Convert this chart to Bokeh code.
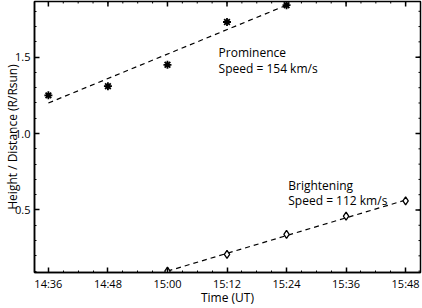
from bokeh.plotting import figure
from bokeh.models import FixedTicker, Range1d
from bokeh.core.properties import value
from bokeh.embed import file_html
from bokeh.resources import INLINE

# ---- data (times in UT) ----
prom_times = ["14:36", "14:48", "15:00", "15:12", "15:24"]
prom_heights = [1.25, 1.31, 1.45, 1.73, 1.84]
bright_times = ["15:00", "15:12", "15:24", "15:36", "15:48"]
bright_heights = [0.10, 0.21, 0.34, 0.46, 0.56]
prom_fit_times = ["14:36", "15:24"]
prom_fit_heights = [1.20, 1.84]
bright_fit_times = ["15:00", "15:48"]
bright_fit_heights = [0.10, 0.565]
x_tick_labels = ["14:36", "14:48", "15:00", "15:12", "15:24", "15:36", "15:48"]
y_ticks = [0.5, 1.0, 1.5]
y_tick_labels = ["0.5", "1.0", "1.5"]
prom_text = ["Prominence", "Speed = 154 km/s"]
prom_text_time = "15:10.3"
prom_text_heights = [1.531, 1.427]
bright_text = ["Brightening", "Speed = 112 km/s"]
bright_text_time = "15:24.35"
bright_text_heights = [0.658, 0.561]
x_title = "Time (UT)"
y_title = "Height / Distance (R/Rsun)"


def to_min(s):
    h, m = s.split(":")
    return (int(h) - 14) * 60 + float(m)


FONT = "Open Sans"
W, H = 422, 308
BL, BR, BT, BB = 34, 2, 1, 34
X0, X1 = 33.2, 111.0
Y0, Y1 = 0.091, 1.864

p = figure(width=W, height=H, output_backend="svg", toolbar_location=None,
           x_range=Range1d(X0, X1), y_range=Range1d(Y0, Y1),
           min_border_left=BL, min_border_right=BR, min_border_top=BT, min_border_bottom=BB)
p.background_fill_color = "white"
p.border_fill_color = "white"
p.outline_line_color = "black"
p.outline_line_width = 1.5
p.xgrid.visible = False
p.ygrid.visible = False

x_major = [to_min(t) for t in x_tick_labels]
x_minor = list(range(33, 112, 3))
y_minor = [round(i * 0.1, 1) for i in range(1, 19)]
xt = FixedTicker(ticks=x_major, minor_ticks=x_minor)
yt = FixedTicker(ticks=y_ticks, minor_ticks=y_minor)


def style(ax):
    ax.axis_line_color = "black"
    ax.axis_line_width = 1.5
    ax.major_tick_in = 5
    ax.major_tick_out = 0
    ax.minor_tick_in = 2
    ax.minor_tick_out = 0
    ax.major_tick_line_width = 1.5
    ax.minor_tick_line_width = 1
    ax.major_tick_line_color = "black"
    ax.minor_tick_line_color = "black"
    ax.major_label_text_font = FONT
    ax.major_label_text_font_size = "11px"
    ax.major_label_text_color = "black"
    ax.axis_label_text_font = FONT
    ax.axis_label_text_font_size = "12px"
    ax.axis_label_text_font_style = "normal"
    ax.axis_label_text_color = "black"


xa = p.xaxis[0]
xa.ticker = xt
xa.major_label_overrides = {m: l for m, l in zip(x_major, x_tick_labels)}
xa.major_label_standoff = 3
xa.axis_label = x_title
xa.axis_label_standoff = -5
style(xa)

ya = p.yaxis[0]
ya.ticker = yt
ya.major_label_overrides = {t: l for t, l in zip(y_ticks, y_tick_labels)}
ya.major_label_standoff = 4
ya.axis_label = y_title
ya.axis_label_standoff = -9
style(ya)

# inward ticks on the top and right edges of the frame
fw, fh = W - BL - BR, H - BT - BB
dx_px = (X1 - X0) / fw
dy_px = (Y1 - Y0) / fh
p.segment(x0=x_major, y0=[Y1] * len(x_major), x1=x_major,
          y1=[Y1 - 5 * dy_px] * len(x_major), line_color="black", line_width=1.5)
p.segment(x0=x_minor, y0=[Y1] * len(x_minor), x1=x_minor,
          y1=[Y1 - 2 * dy_px] * len(x_minor), line_color="black", line_width=1)
p.segment(x0=[X1] * len(y_ticks), y0=y_ticks, x1=[X1 - 5 * dx_px] * len(y_ticks),
          y1=y_ticks, line_color="black", line_width=1.5)
p.segment(x0=[X1] * len(y_minor), y0=y_minor, x1=[X1 - 2 * dx_px] * len(y_minor),
          y1=y_minor, line_color="black", line_width=1)

# fit lines
p.line([to_min(t) for t in prom_fit_times], prom_fit_heights,
       line_color="black", line_width=1.2, line_dash="5 4")
p.line([to_min(t) for t in bright_fit_times], bright_fit_heights,
       line_color="black", line_width=1.2, line_dash="5 4")

# points
p.scatter([to_min(t) for t in prom_times], prom_heights, marker="asterisk",
          size=8, line_color="black", line_width=1.8)
p.scatter([to_min(t) for t in bright_times], bright_heights, marker="diamond",
          size=8, line_color="black", fill_color="white", line_width=1.3)

# annotations
p.text([to_min(prom_text_time)] * 2, prom_text_heights, text=prom_text,
       text_font=value(FONT), text_font_size=value("12px"), text_color="black",
       text_align="left", text_baseline="alphabetic")
p.text([to_min(bright_text_time)] * 2, bright_text_heights, text=bright_text,
       text_font=value(FONT), text_font_size=value("12px"), text_color="black",
       text_align="left", text_baseline="alphabetic")

open("out.html", "w").write(file_html(p, INLINE))
